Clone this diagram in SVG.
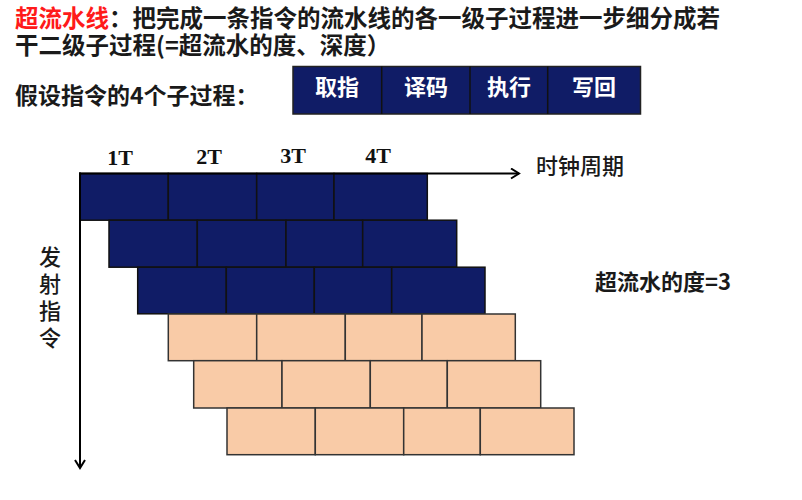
<svg xmlns="http://www.w3.org/2000/svg" width="802" height="500" viewBox="0 0 802 500">
<style>
.cjk{font-family:"Noto Sans CJK SC","Liberation Sans",sans-serif;}
.title{font-size:23.5px;font-weight:bold;fill:#1a1a1a;}
.hdr{fill:#101c66;stroke:#222;stroke-width:1.5;}
.hdrt{font-size:22px;fill:#ffffff;font-weight:bold;text-anchor:middle;}
.navy{fill:#101c66;stroke:#111;stroke-width:1.5;}
.peach{fill:#f9cba7;stroke:#333;stroke-width:1.5;}
.tl{font-family:"Liberation Serif",serif;font-weight:bold;font-size:22px;fill:#111;text-anchor:middle;}
.lbl{font-size:22px;fill:#1a1a1a;}
.axis{stroke:#000;stroke-width:2;fill:none;}
</style>
<defs>
<marker id="arr" viewBox="0 0 12 12" refX="10" refY="6" markerWidth="12" markerHeight="12" markerUnits="userSpaceOnUse" orient="auto">
<path d="M2,1 L10,6 L2,11" fill="none" stroke="#000" stroke-width="2"/>
</marker>
</defs>
<rect width="802" height="500" fill="#fff"/>
<g id="title" class="cjk title">
<text x="15" y="27"><tspan fill="#ff1a1a">超流水线</tspan><tspan>：把完成一条指令的流水线的各一级子过程进一步细分成若</tspan><tspan x="15" dy="27">干二级子过程(=超流水的度、深度）</tspan></text>
<text x="15" y="104" font-size="23">假设指令的4个子过程：</text>
</g>
<g id="stages">
<rect class="hdr" x="293" y="66.5" width="347.5" height="47.5"/>
<line x1="381.7" y1="66.5" x2="381.7" y2="114" stroke="#111" stroke-width="1.5"/>
<line x1="470" y1="66.5" x2="470" y2="114" stroke="#111" stroke-width="1.5"/>
<line x1="547.7" y1="66.5" x2="547.7" y2="114" stroke="#111" stroke-width="1.5"/>
<g class="cjk hdrt">
<text x="337" y="95">取指</text>
<text x="426" y="95">译码</text>
<text x="509" y="95">执行</text>
<text x="594" y="95">写回</text>
</g>
</g>
<g id="row1">
<rect class="navy" x="80" y="173.5" width="88.3" height="46.7"/>
<rect class="navy" x="168.3" y="173.5" width="88.4" height="46.7"/>
<rect class="navy" x="256.7" y="173.5" width="77.3" height="46.7"/>
<rect class="navy" x="334" y="173.5" width="93.3" height="46.7"/>
</g>
<g id="row2">
<rect class="navy" x="109" y="220.2" width="88.3" height="47"/>
<rect class="navy" x="197.3" y="220.2" width="88.7" height="47"/>
<rect class="navy" x="286" y="220.2" width="76.7" height="47"/>
<rect class="navy" x="362.7" y="220.2" width="94" height="47"/>
</g>
<g id="row3">
<rect class="navy" x="137.7" y="267.2" width="88.6" height="46.6"/>
<rect class="navy" x="226.3" y="267.2" width="88" height="46.6"/>
<rect class="navy" x="314.3" y="267.2" width="77.4" height="46.6"/>
<rect class="navy" x="391.7" y="267.2" width="93.3" height="46.6"/>
</g>
<g id="row4">
<rect class="peach" x="168.3" y="314" width="88.4" height="46.7"/>
<rect class="peach" x="256.7" y="314" width="88.6" height="46.7"/>
<rect class="peach" x="345.3" y="314" width="76.7" height="46.7"/>
<rect class="peach" x="422" y="314" width="93.3" height="46.7"/>
</g>
<g id="row5">
<rect class="peach" x="193.7" y="360.7" width="88.3" height="47.3"/>
<rect class="peach" x="282" y="360.7" width="88.3" height="47.3"/>
<rect class="peach" x="370.3" y="360.7" width="77" height="47.3"/>
<rect class="peach" x="447.3" y="360.7" width="93.4" height="47.3"/>
</g>
<g id="row6">
<rect class="peach" x="227" y="408" width="88.3" height="46.7"/>
<rect class="peach" x="315.3" y="408" width="88.4" height="46.7"/>
<rect class="peach" x="403.7" y="408" width="76.6" height="46.7"/>
<rect class="peach" x="480.3" y="408" width="93.7" height="46.7"/>
</g>
<g id="connectors">
<line class="axis" x1="79" y1="173.5" x2="519" y2="173.5" marker-end="url(#arr)"/>
<line class="axis" x1="80" y1="172.5" x2="80" y2="468" marker-end="url(#arr)"/>
</g>
<g id="ticks">
<text class="tl" x="120" y="165">1T</text>
<text class="tl" x="209" y="164">2T</text>
<text class="tl" x="293" y="163">3T</text>
<text class="tl" x="378" y="163">4T</text>
</g>
<g id="xlabel"><text class="cjk lbl" x="536" y="174" font-size="23" font-weight="500">时钟周期</text></g>
<g id="depth"><text class="cjk lbl" x="595" y="290" font-weight="bold">超流水的度=3</text></g>
<g id="ylabel"><text class="cjk lbl" x="50" y="246" font-weight="500" style="writing-mode:vertical-rl" letter-spacing="5">发射指令</text></g>
</svg>
